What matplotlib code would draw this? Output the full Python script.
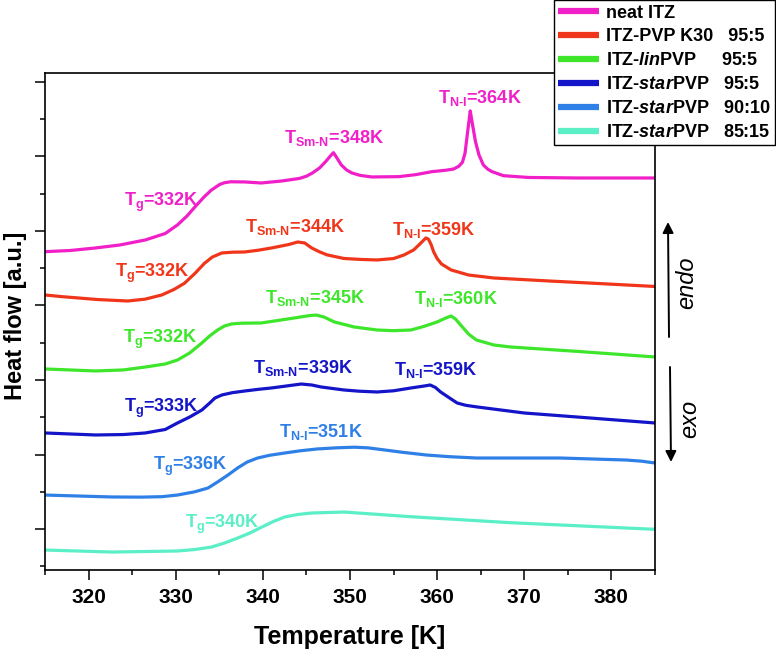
import matplotlib
matplotlib.use("Agg")
import matplotlib.pyplot as plt
from matplotlib.ticker import MultipleLocator, NullFormatter

plt.rcParams['font.family'] = ['Liberation Sans', 'DejaVu Sans']
plt.rcParams['mathtext.fontset'] = 'custom'
plt.rcParams['mathtext.rm'] = 'Liberation Sans:bold'
plt.rcParams['mathtext.it'] = 'Liberation Sans:bold:italic'
plt.rcParams['mathtext.bf'] = 'Liberation Sans:bold'
plt.rcParams['mathtext.sf'] = 'Liberation Sans:bold'

# ---------------- data ----------------
series_names = ["neat ITZ",
                "ITZ-PVP K30   95:5",
                "ITZ-$\\mathit{lin}$PVP     95:5",
                "ITZ-$\\mathit{star}$PVP   95:5",
                "ITZ-$\\mathit{star}$PVP   90:10",
                "ITZ-$\\mathit{star}$PVP   85:15"]
series_colors = ["#f01fc8", "#f0361a", "#3de62a", "#1414c8", "#2f80e6", "#5aefc6"]

T_neat = [315.0, 317.9, 320.8, 323.6, 326.5, 328.8, 330.2, 331.3, 332.2, 333.2, 334.1, 335.05,
          335.6, 336.3, 337.9, 339.8, 342.2, 344.2, 345.0, 345.7, 346.5, 347.2, 347.7, 348.1,
          348.5, 349.0, 349.6, 350.2, 351.2, 352.5, 355.6, 357.5, 359.4, 361.0, 361.9, 362.5,
          362.9, 363.2, 363.5, 363.8, 364.0, 364.4, 364.8, 365.3, 365.8, 366.3, 367.6,
          370.5, 376.2, 385.0]
H_neat = [3.722, 3.738, 3.772, 3.812, 3.879, 3.966, 4.081, 4.201, 4.322, 4.450, 4.550, 4.624,
          4.648, 4.660, 4.658, 4.644, 4.671, 4.705, 4.735, 4.779, 4.845, 4.930, 5.000, 5.051,
          4.980, 4.886, 4.820, 4.779, 4.745, 4.725, 4.729, 4.755, 4.796, 4.815, 4.832, 4.870,
          4.922, 5.043, 5.333, 5.611, 5.467, 5.199, 5.020, 4.886, 4.830, 4.796, 4.742,
          4.718, 4.711, 4.711]

T_k30 = [315.0, 317.0, 318.8, 321.0, 324.5, 326.5, 328.4, 329.8, 331.0, 332.2, 333.3, 334.2,
         335.3, 336.5, 337.9, 339.5, 341.0, 343.0, 344.0, 344.8, 345.6, 346.5, 347.4, 349.3,
         351.2, 353.1, 355.0, 356.2, 357.3, 357.9, 358.4, 358.7, 359.0, 359.3, 359.6, 360.0,
         360.5, 361.6, 363.6, 366.5, 372.8, 378.5, 385.0]
H_k30 = [3.141, 3.118, 3.101, 3.080, 3.060, 3.085, 3.141, 3.215, 3.298, 3.430, 3.566, 3.650,
         3.705, 3.715, 3.718, 3.742, 3.772, 3.819, 3.852, 3.839, 3.772, 3.720, 3.678, 3.631,
         3.618, 3.611, 3.630, 3.678, 3.745, 3.812, 3.870, 3.906, 3.890, 3.820, 3.720, 3.630,
         3.557, 3.477, 3.409, 3.369, 3.329, 3.295, 3.255]

T_lin = [315.0, 320.8, 324.0, 326.5, 328.8, 330.2, 331.6, 333.0, 333.9, 334.8, 335.6, 336.4,
         337.5, 339.8, 343.6, 345.2, 346.1, 347.0, 348.2, 350.5, 353.1, 355.0, 357.0, 358.5,
         360.0, 361.0, 361.6, 362.1, 362.7, 363.6, 364.5, 366.5, 368.4, 376.2, 385.0]
H_lin = [2.148, 2.121, 2.135, 2.174, 2.215, 2.268, 2.362, 2.497, 2.591, 2.671, 2.725, 2.752,
         2.762, 2.765, 2.832, 2.862, 2.872, 2.846, 2.779, 2.711, 2.671, 2.662, 2.671, 2.720,
         2.779, 2.832, 2.859, 2.819, 2.738, 2.617, 2.537, 2.470, 2.443, 2.383, 2.309]

T_star5 = [315.0, 320.8, 324.0, 326.5, 328.8, 330.2, 331.6, 333.0, 333.9, 334.5, 335.3, 336.5,
           337.9, 339.5, 341.0, 344.4, 345.6, 346.7, 349.3, 351.0, 353.1, 355.0, 357.0, 358.5,
           359.2, 359.8, 360.4, 361.6, 362.3, 363.3, 364.6, 370.0, 376.1, 385.0]
H_star5 = [1.289, 1.262, 1.268, 1.289, 1.336, 1.423, 1.503, 1.597, 1.691, 1.758, 1.799, 1.830,
           1.852, 1.875, 1.893, 1.946, 1.933, 1.906, 1.866, 1.850, 1.839, 1.855, 1.893, 1.919,
           1.933, 1.900, 1.839, 1.745, 1.691, 1.660, 1.638, 1.557, 1.503, 1.423]

T_star10 = [315.0, 322.7, 326.0, 328.4, 330.2, 332.2, 333.7, 334.8, 336.0, 337.1, 338.2, 339.4,
            340.8, 342.5, 344.3, 346.2, 348.5, 350.5, 352.0, 353.1, 356.0, 358.8, 361.5, 364.5,
            374.1, 381.7, 383.5, 385.0]
H_star10 = [0.456, 0.430, 0.428, 0.434, 0.456, 0.500, 0.550, 0.631, 0.725, 0.819, 0.899, 0.953,
            0.990, 1.020, 1.050, 1.074, 1.090, 1.098, 1.090, 1.074, 1.030, 0.993, 0.970, 0.953,
            0.953, 0.926, 0.910, 0.886]

T_star15 = [315.0, 322.7, 330.2, 332.2, 334.1, 335.6, 337.1, 338.5, 339.9, 341.2, 342.5, 344.0,
            345.6, 349.3, 357.0, 368.4, 385.0]
H_star15 = [-0.282, -0.309, -0.295, -0.275, -0.242, -0.188, -0.121, -0.054, 0.027, 0.101, 0.161,
            0.195, 0.215, 0.228, 0.165, 0.085, -0.004]

temps = [T_neat, T_k30, T_lin, T_star5, T_star10, T_star15]
flows = [H_neat, H_k30, H_lin, H_star5, H_star10, H_star15]

# annotations: (text, x [K], y [a.u.], series index)
ann_texts = ["T$_{\\text{g}}$=332K", "T$_{\\text{Sm-N}}$=348K", "T$_{\\text{N-I}}$=364K",
             "T$_{\\text{g}}$=332K", "T$_{\\text{Sm-N}}$=344K", "T$_{\\text{N-I}}$=359K",
             "T$_{\\text{g}}$=332K", "T$_{\\text{Sm-N}}$=345K", "T$_{\\text{N-I}}$=360K",
             "T$_{\\text{g}}$=333K", "T$_{\\text{Sm-N}}$=339K", "T$_{\\text{N-I}}$=359K",
             "T$_{\\text{g}}$=336K", "T$_{\\text{N-I}}$=351K",
             "T$_{\\text{g}}$=340K"]
ann_x = [328.3, 348.2, 364.9, 327.3, 343.7, 359.6, 328.2, 346.0, 362.1, 328.3, 344.6, 359.8,
         331.7, 346.7, 335.4]
ann_y = [4.336, 5.181, 5.718, 3.383, 3.987, 3.946, 2.497, 3.034, 3.020, 1.570, 2.094, 2.067,
         0.792, 1.235, 0.013]
ann_series = [0, 0, 0, 1, 1, 1, 2, 2, 2, 3, 3, 3, 4, 4, 5]

x_ticks = [320, 330, 340, 350, 360, 370, 380]

# ---------------- figure ----------------
fig = plt.figure(figsize=(7.76, 6.51), dpi=100)
ax = fig.add_axes([45 / 776, 1 - 570 / 651, 610 / 776, 497 / 651])

for T, H, c, name in zip(temps, flows, series_colors, series_names):
    ax.plot(T, H, color=c, lw=2.3, label=name, solid_joinstyle='round', solid_capstyle='butt')

for s, x, y, si in zip(ann_texts, ann_x, ann_y, ann_series):
    ax.text(x, y, s, color=series_colors[si], fontsize=13, fontweight='bold',
            ha='center', va='baseline')

ax.set_xlim(315, 385)
ax.set_ylim(-0.55, 6.12)
ax.set_xticks(x_ticks)
ax.xaxis.set_minor_locator(MultipleLocator(5))
ax.yaxis.set_major_locator(MultipleLocator(1))
ax.yaxis.set_minor_locator(MultipleLocator(0.5))
ax.yaxis.set_major_formatter(NullFormatter())
ax.tick_params(which='major', direction='out', length=7.2, width=1.1, labelsize=15, pad=6)
ax.tick_params(which='minor', direction='out', length=3.8, width=1.1)
for lbl in ax.get_xticklabels():
    lbl.set_fontweight('bold')
for sp in ax.spines.values():
    sp.set_linewidth(1.2)

ax.set_xlabel("Temperature [K]", fontsize=18, fontweight='bold', labelpad=13)
ax.set_ylabel("Heat flow [a.u.]", fontsize=17, fontweight='bold')
ax.yaxis.set_label_coords((16 - 45) / 610, (570 - 316) / 497)
ax.yaxis.label.set_va('center')

leg = ax.legend(loc='upper right', bbox_to_anchor=(775 / 776, 1.0), bbox_transform=fig.transFigure,
                prop={'weight': 'bold', 'size': 13}, frameon=True, fancybox=False,
                framealpha=1, edgecolor='black', handlelength=2.25, handletextpad=0.4,
                labelspacing=0.38, borderpad=0.25, borderaxespad=0)
leg.get_frame().set_linewidth(1.0)
for h in leg.get_lines():
    h.set_linewidth(4.5)

# endo / exo arrows (outside the axes, right side)
ax.annotate('', xy=(668, 651 - 222), xytext=(669, 651 - 337), xycoords='figure pixels',
            textcoords='figure pixels',
            arrowprops=dict(arrowstyle='-|>', color='black', lw=1.4, mutation_scale=16,
                            shrinkA=0, shrinkB=0))
ax.annotate('', xy=(671, 651 - 462), xytext=(670, 651 - 367), xycoords='figure pixels',
            textcoords='figure pixels',
            arrowprops=dict(arrowstyle='-|>', color='black', lw=1.4, mutation_scale=16,
                            shrinkA=0, shrinkB=0))
fig.text(687 / 776, 1 - 283 / 651, "endo", rotation=90, style='italic', fontsize=17,
         ha='center', va='center')
fig.text(690 / 776, 1 - 419 / 651, "exo", rotation=90, style='italic', fontsize=17,
         ha='center', va='center')

fig.savefig("out.png", dpi=100)
